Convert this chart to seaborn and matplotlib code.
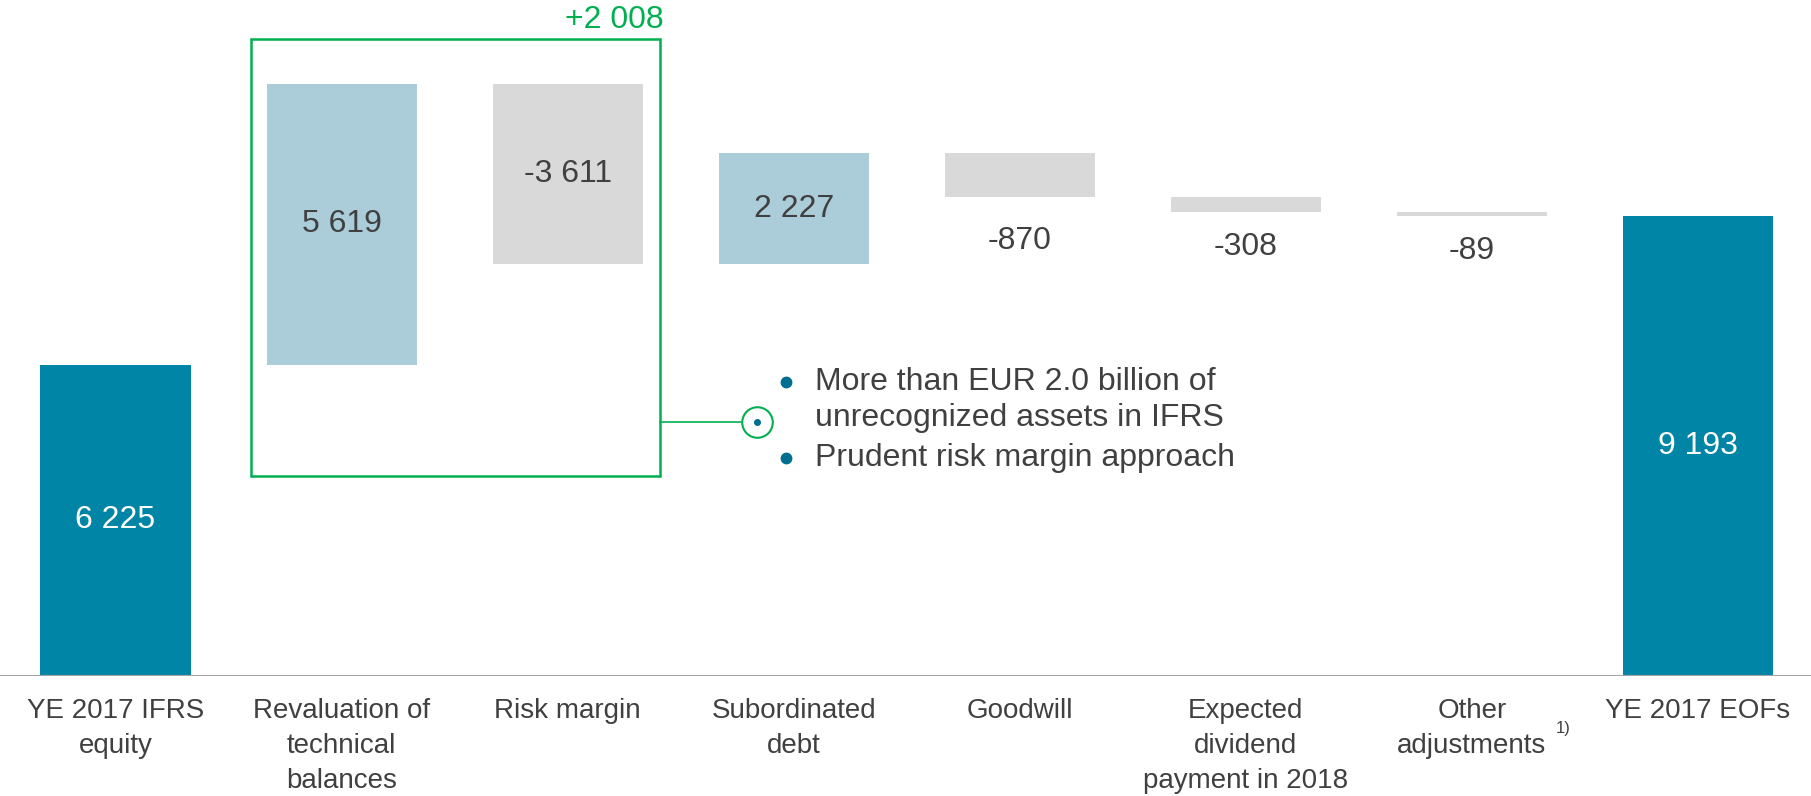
import numpy as np
import pandas as pd
import matplotlib
matplotlib.use("Agg")
import matplotlib.pyplot as plt
from matplotlib.patches import Rectangle
import seaborn as sns

# Data (EUR million)
categories = [
    "YE 2017 IFRS\nequity",
    "Revaluation of\ntechnical\nbalances",
    "Risk margin",
    "Subordinated\ndebt",
    "Goodwill",
    "Expected\ndividend\npayment in 2018",
    "Other\nadjustments",
    "YE 2017 EOFs",
]
changes = [6225, 5619, -3611, 2227, -870, -308, -89, 9193]
kinds = ["total", "up", "down", "up", "down", "down", "down", "total"]
group_total = "+2 008"
bullets = [
    "More than EUR 2.0 billion of\nunrecognized assets in IFRS",
    "Prudent risk margin approach",
]

# Colours
TEAL = "#0085A6"
LIGHT = "#ABCDD9"
GREY = "#D9D9D9"
GREEN = "#00B050"
TEXT = "#404040"
DOT = "#006E8F"

# ===========================
# WATERFALL GEOMETRY
# ===========================
bottoms, heights = [], []
running = 0
for v, k in zip(changes, kinds):
    if k == "total":
        bottoms.append(0)
        heights.append(v)
        running = v
    else:
        bottoms.append(min(running, running + v))
        heights.append(abs(v))
        running += v

df = pd.DataFrame({"Category": categories, "Height": heights, "Bottom": bottoms, "Kind": kinds})
color_map = {"total": TEAL, "up": LIGHT, "down": GREY}

sns.set_theme(style="white")
plt.rcParams["font.family"] = ["Liberation Sans", "DejaVu Sans"]

fig = plt.figure(figsize=(18.11, 7.96), dpi=100)
ax = fig.add_axes([0, 0.1508, 1, 0.849])

sns.barplot(
    data=df,
    x="Category",
    y="Height",
    bottom=df["Bottom"].values,
    width=0.664,
    color=TEAL,
    errorbar=None,
    ax=ax,
    zorder=2,
)
for patch, k in zip(ax.patches, df["Kind"]):
    patch.set_facecolor(color_map[k])
    patch.set_edgecolor("none")

ax.set_xlim(-0.511, 7.50)
ax.set_ylim(0, 13520)
ax.set_xlabel("")
ax.set_ylabel("")
ax.set_yticks([])
sns.despine(ax=ax, left=True, bottom=True)
ax.axhline(0, color="#A6A6A6", lw=1.5, zorder=3)
ax.tick_params(axis="x", length=0, pad=16, labelsize=20, labelcolor=TEXT)
for lbl in ax.get_xticklabels():
    lbl.set_linespacing(1.45)

# ===========================
# VALUE LABELS
# ===========================
below_offset = {4: -32}
for i, (v, k) in enumerate(zip(changes, kinds)):
    txt = f"{v:,}".replace(",", " ")
    b, h = bottoms[i], heights[i]
    if k == "total":
        ax.text(i, b + h / 2, txt, ha="center", va="center", fontsize=23, color="white", zorder=4)
    elif h > 1500:
        ax.text(i, b + h / 2, txt, ha="center", va="center", fontsize=23, color=TEXT, zorder=4)
    else:
        ax.annotate(txt, (i, b), xytext=(0, below_offset.get(i, -25)), textcoords="offset points",
                    ha="center", va="center", fontsize=23, color=TEXT, zorder=4)

# superscript note on "Other adjustments"
fig.text(1556 / 1811, 1 - 729 / 796, "1)", fontsize=12, color=TEXT, ha="left", va="center")

# ===========================
# GREEN BOX + COMMENT
# ===========================
box_x0, box_x1 = 0.60, 2.41
box_y0, box_y1 = 4000, 12740
ax.add_patch(Rectangle((box_x0, box_y0), box_x1 - box_x0, box_y1 - box_y0,
                       fill=False, edgecolor=GREEN, lw=1.8, zorder=5))
ax.text(box_x1 + 0.015, box_y1 + 230, group_total, ha="right", va="baseline",
        fontsize=23, color=GREEN)

circ_x, circ_y = 2.836, 5090
ax.plot([box_x1, circ_x - 0.068], [circ_y, circ_y], color=GREEN, lw=1.2, zorder=5)
ax.plot([circ_x], [circ_y], marker="o", markersize=22, mfc="white", mec=GREEN,
        mew=1.5, zorder=6, clip_on=False)
ax.plot([circ_x], [circ_y], marker="o", markersize=4, color=DOT, zorder=7)

# bullet list
ax.plot([2.967, 2.967], [5880, 4360], ls="none", marker="o", markersize=7.5, color=DOT)
fig.text(815 / 1811, 1 - 400 / 796, bullets[0], fontsize=23, color=TEXT,
         ha="left", va="center", linespacing=1.25)
fig.text(815 / 1811, 1 - 458 / 796, bullets[1], fontsize=23, color=TEXT,
         ha="left", va="center")

fig.savefig("out.png", dpi=100)
